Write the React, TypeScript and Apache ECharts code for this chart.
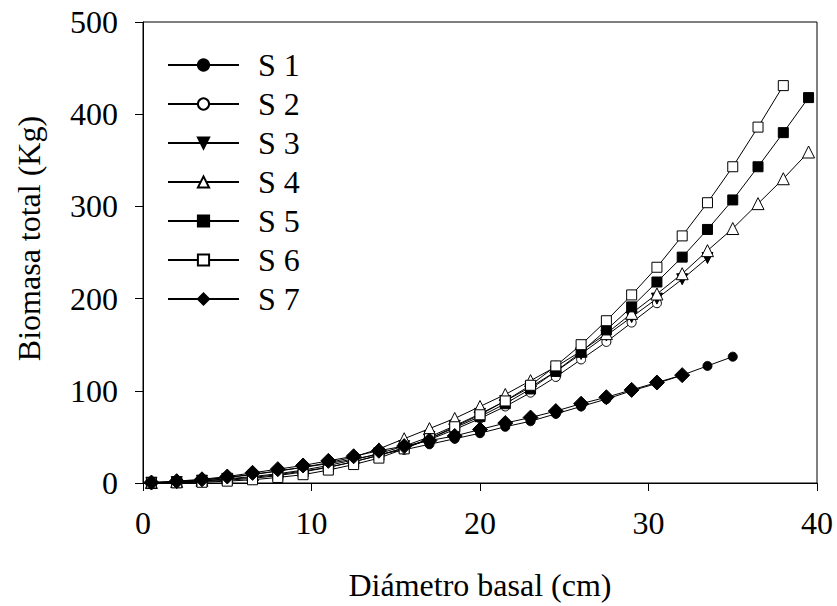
import React, { useEffect, useRef } from "react";
import * as echarts from "echarts";

const diam = [0.5, 2, 3.5, 5, 6.5, 8, 9.5, 11, 12.5, 14, 15.5, 17, 18.5, 20, 21.5, 23, 24.5, 26, 27.5, 29, 30.5, 32, 33.5, 35, 36.5, 38, 39.5];

const s1 = [0.3, 1.5, 3.5, 6, 9.5, 13, 17, 21, 26, 31, 36, 42, 48, 54, 61, 67, 75, 83, 91, 100, 108, 117, 127, 137];
const s2 = [0.2, 0.8, 2, 4, 6, 9, 13, 17, 23, 30, 38, 47, 58, 70, 83, 98, 115, 134, 153, 174, 195];
const s3 = [0.3, 1, 2.5, 4.5, 7, 10, 14, 19, 25, 32, 40, 50, 62, 75, 89, 104, 121, 140, 160, 180, 200, 221, 244];
const s4 = [0.5, 1.5, 3, 6, 9, 13, 17, 22, 28, 37, 48, 59, 70, 83, 96, 111, 126, 143, 162, 184, 205, 227, 252, 276, 303, 330, 359];
const s5 = [0, 0.5, 1.5, 3, 5, 8, 12, 17, 23, 30, 38, 48, 60, 72, 86, 102, 121, 142, 166, 191, 218, 245, 275, 307, 343, 380, 418];
const s6 = [0, 0.2, 0.8, 2, 3.5, 6, 9, 14, 20, 27, 37, 48, 61, 74, 89, 106, 127, 150, 176, 204, 234, 268, 304, 343, 386, 431];
const s7 = [0.5, 2, 4, 7, 11, 15, 19, 24, 29, 35, 40, 46, 51, 58, 65, 71, 78, 86, 93, 101, 109, 117];

const seriesNames = ["S 1", "S 2", "S 3", "S 4", "S 5", "S 6", "S 7"];
const yTicks = { min: 0, max: 500, interval: 100 };
const xTicks = { min: 0, max: 40, interval: 10 };

const FONT = "'Liberation Serif', 'Times New Roman', serif";

function pairs(vals: number[]) {
  return vals.map((v, i) => [diam[i], v]);
}

export default function App() {
  const ref = useRef<HTMLDivElement>(null);
  useEffect(() => {
    if (!ref.current) return;
    const chart = echarts.init(ref.current, null, { renderer: "svg" });
    const styles = [
      { symbol: "circle", size: 9, fill: "#000", rotate: 0 },
      { symbol: "circle", size: 9, fill: "#fff", rotate: 0 },
      { symbol: "triangle", size: 11, fill: "#000", rotate: 180 },
      { symbol: "triangle", size: 12, fill: "#fff", rotate: 0 },
      { symbol: "rect", size: 10, fill: "#000", rotate: 0 },
      { symbol: "rect", size: 10, fill: "#fff", rotate: 0 },
      { symbol: "diamond", size: 15, fill: "#000", rotate: 0 },
    ];
    const data = [s1, s2, s3, s4, s5, s6, s7];
    chart.setOption({
      animation: false,
      backgroundColor: "#fff",
      grid: {
        left: 143,
        right: 20,
        top: 22,
        bottom: 115,
        show: true,
        borderColor: "#000",
        borderWidth: 1,
        backgroundColor: "transparent",
      },
      legend: {
        orient: "vertical",
        left: 162,
        top: 44,
        itemWidth: 71,
        itemHeight: 14,
        itemGap: 7,
        data: seriesNames,
        textStyle: {
          fontFamily: FONT,
          fontSize: 32,
          color: "#000",
          padding: [0, 0, 0, 14],
        },
      },
      xAxis: {
        type: "value",
        min: xTicks.min,
        max: xTicks.max,
        interval: xTicks.interval,
        name: "Diámetro basal (cm)",
        nameLocation: "middle",
        nameGap: 86,
        nameTextStyle: { fontFamily: FONT, fontSize: 32, color: "#000" },
        axisLine: { lineStyle: { color: "#000", width: 1 } },
        axisTick: { show: true, length: 8, lineStyle: { color: "#000" } },
        axisLabel: { fontFamily: FONT, fontSize: 32, color: "#000", margin: 24 },
        splitLine: { show: false },
      },
      yAxis: {
        type: "value",
        min: yTicks.min,
        max: yTicks.max,
        interval: yTicks.interval,
        name: "Biomasa total (Kg)",
        nameLocation: "middle",
        nameGap: 98,
        nameTextStyle: {
          fontFamily: FONT,
          fontSize: 32,
          color: "#000",
          padding: [0, 0, 0, 28],
        },
        axisLine: { show: true, lineStyle: { color: "#000", width: 1 } },
        axisTick: { show: true, length: 8, lineStyle: { color: "#000" } },
        axisLabel: { fontFamily: FONT, fontSize: 32, color: "#000", margin: 25 },
        splitLine: { show: false },
      },
      series: data.map((vals, i) => ({
        name: seriesNames[i],
        type: "line",
        data: pairs(vals),
        symbol: styles[i].symbol,
        symbolSize: styles[i].size,
        symbolRotate: styles[i].rotate,
        showAllSymbol: true,
        clip: false,
        lineStyle: { color: "#000", width: 1 },
        itemStyle: { color: styles[i].fill, borderColor: "#000", borderWidth: 1 },
        emphasis: { disabled: true },
      })),
    });
    return () => chart.dispose();
  }, []);
  return (
    <div
      ref={ref}
      style={{ position: "fixed", left: 0, top: 0, width: 837, height: 606 }}
    />
  );
}
